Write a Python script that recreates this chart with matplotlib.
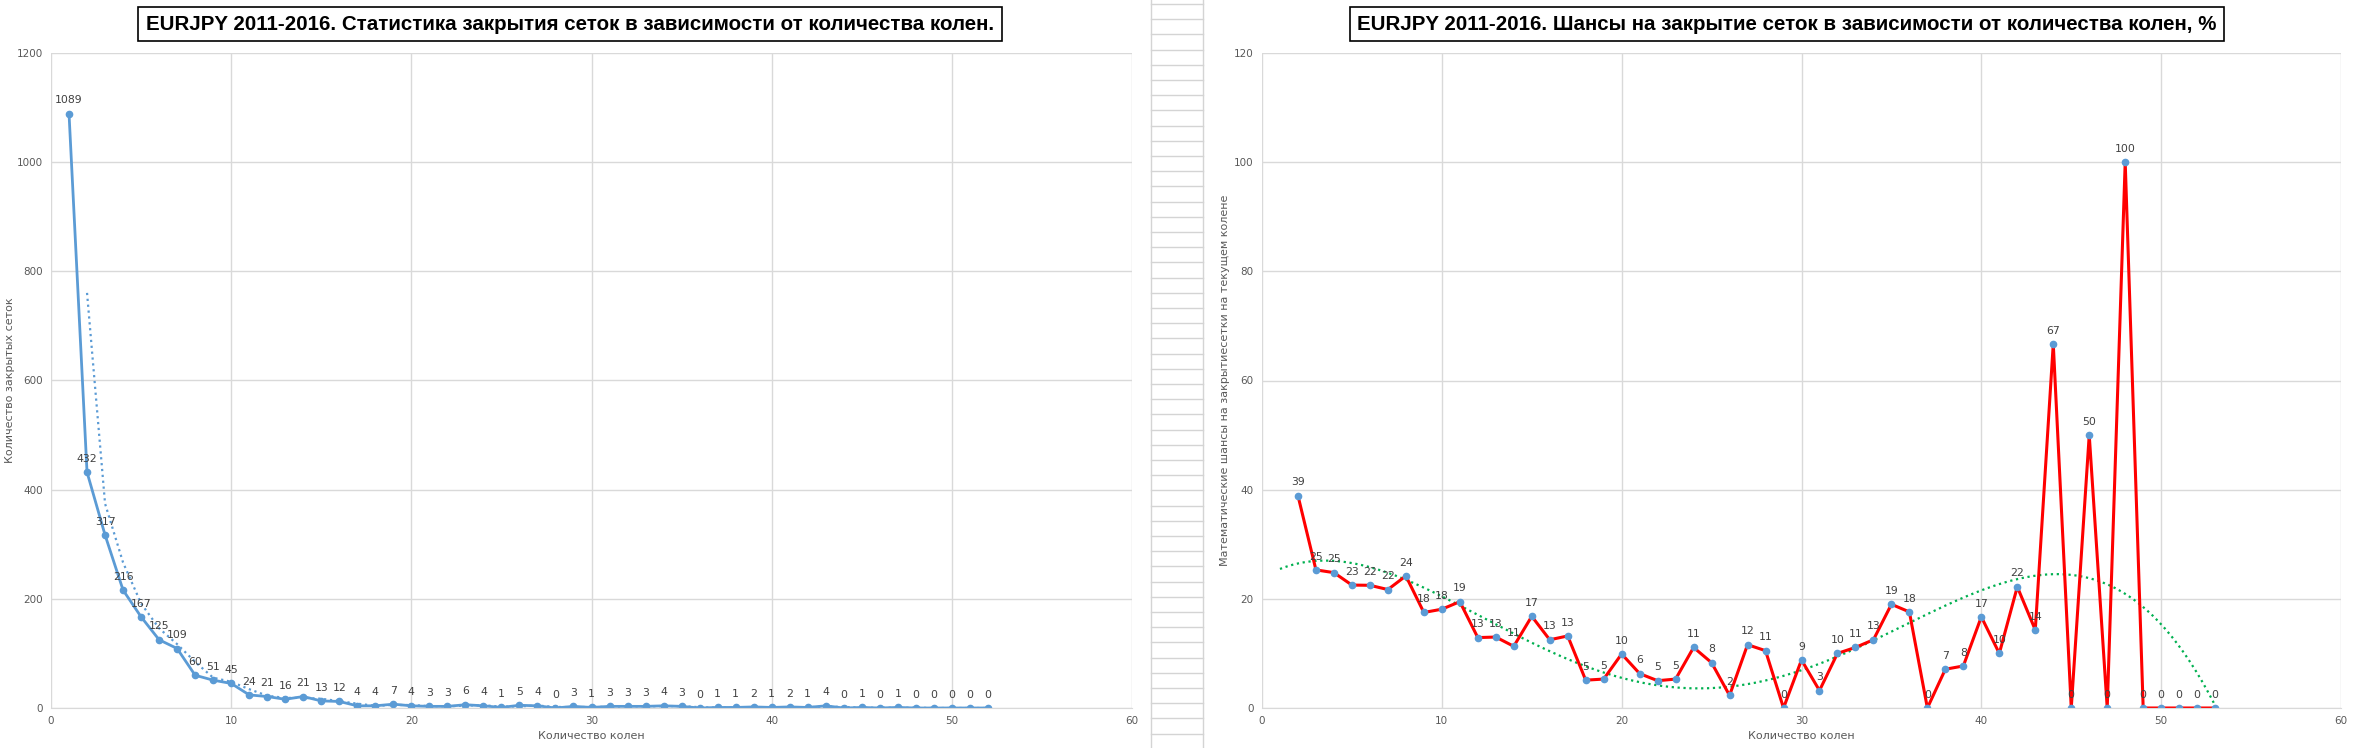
import numpy as np
import pandas as pd
import matplotlib
matplotlib.use("Agg")
import matplotlib.pyplot as plt

# left chart: how many grids closed at each knee
knees = list(range(1, 53))
closed = [1089, 432, 317, 216, 167, 125, 109, 60, 51, 45, 24, 21, 16, 21, 13, 12,
          4, 4, 7, 4, 3, 3, 6, 4, 1, 5, 4, 0, 3, 1, 3, 3, 3, 4, 3, 0, 1, 1, 2, 1,
          2, 1, 4, 0, 1, 0, 1, 0, 0, 0, 0, 0]

# right chart: chance (%) to close at the current knee
knees_pct = list(range(2, 54))
chance = [38.9, 25.3, 24.8, 22.52, 22.48, 21.7, 24.2, 17.5, 18.1, 19.48, 12.9, 13.0,
          11.3, 16.8, 12.5, 13.2, 5.1, 5.3, 9.9, 6.3, 5.0, 5.3, 11.1, 8.3, 2.3, 11.6,
          10.5, 0, 8.8, 3.2, 10.0, 11.1, 12.5, 19.0, 17.6, 0, 7.1, 7.7, 16.7, 10.0,
          22.2, 14.3, 66.7, 0, 50.0, 0, 100.0, 0, 0, 0, 0, 0]

title_left = "EURJPY 2011-2016. Статистика закрытия сеток в зависимости от количества колен."
title_right = "EURJPY 2011-2016. Шансы на закрытие сеток в зависимости от количества колен, %"
xlabel = "Количество колен"
ylabel_left = "Количество закрытых сеток"
ylabel_right = "Математические шансы на закрытиесетки на текущем колене"

BLUE = "#5B9BD5"
GRID = "#D9D9D9"
TICK = "#595959"
LBL = "#404040"
W, H = 2367, 748

fig = plt.figure(figsize=(W / 100, H / 100), dpi=100)
fig.patch.set_facecolor("white")

# spreadsheet column visible between the two charts
x0, x1 = 1151 / W, 1203 / W
fig.add_artist(plt.Line2D([x0, x0], [0, 1], color="#D4D4D4", lw=1))
fig.add_artist(plt.Line2D([x1, x1], [0, 1], color="#D4D4D4", lw=1))
for yp in np.arange(4, H, 15.2):
    fig.add_artist(plt.Line2D([x0, x1], [1 - yp / H] * 2, color="#D4D4D4", lw=1))


def style_axes(ax, ymax, ystep):
    ax.set_xlim(0, 60)
    ax.set_ylim(0, ymax)
    ax.set_xticks(range(0, 61, 10))
    ax.set_yticks(range(0, ymax + 1, ystep))
    ax.grid(True, color=GRID, lw=1)
    ax.set_axisbelow(True)
    for s in ax.spines.values():
        s.set_visible(False)
    ax.spines["bottom"].set_visible(True)
    ax.spines["bottom"].set_color(GRID)
    ax.tick_params(length=0, labelsize=7.5, labelcolor=TICK, pad=6)


def label_points(ax, xs, ys, texts):
    for x, y, t in zip(xs, ys, texts):
        ax.annotate(t, (x, y), xytext=(0, 6), textcoords="offset points",
                    ha="center", va="bottom", fontsize=7.8, color=LBL)


# ---- left chart
axl = fig.add_axes([51 / W, 1 - 708 / H, 1081 / W, 655 / H])
style_axes(axl, 1200, 200)
# 2-period moving average trend line
ma = pd.Series(closed, index=knees).rolling(2).mean()
axl.plot(ma.index, ma.values, ls=":", color=BLUE, lw=1.6)
axl.plot(knees, closed, color=BLUE, lw=2, marker="o", ms=4.5)
label_points(axl, knees, closed, [str(v) for v in closed])
axl.set_xlabel(xlabel, fontsize=8, color=TICK)
axl.set_ylabel(ylabel_left, fontsize=8, color=TICK)
axl.xaxis.set_label_coords(0.5, -0.035)
axl.yaxis.set_label_coords(-0.033, 0.5)

# ---- right chart
axr = fig.add_axes([1262 / W, 1 - 708 / H, 1079 / W, 655 / H])
style_axes(axr, 120, 20)
# 4th degree polynomial trend line, extended one period back
coef = np.polyfit(knees_pct, chance, 4)
xt = np.linspace(1, 53, 300)
axr.plot(xt, np.polyval(coef, xt), ls=":", color="#00B050", lw=1.6)
axr.plot(knees_pct, chance, color="red", lw=2.2)
axr.plot(knees_pct, chance, ls="none", marker="o", ms=4.5, color=BLUE)
label_points(axr, knees_pct, chance, [str(int(np.floor(v + 0.5))) for v in chance])
axr.set_xlabel(xlabel, fontsize=8, color=TICK)
axr.set_ylabel(ylabel_right, fontsize=8, color=TICK)
axr.xaxis.set_label_coords(0.5, -0.035)
axr.yaxis.set_label_coords(-0.030, 0.5)

# titles in framed boxes
tfont = ["Liberation Sans", "DejaVu Sans"]
for cx, txt in [(570, title_left), (1787, title_right)]:
    fig.text(cx / W, 1 - 24 / H, txt, ha="center", va="center", fontsize=14.8,
             fontweight="bold", family=tfont,
             bbox=dict(boxstyle="square,pad=0.38", fc="white", ec="black", lw=1.2))

fig.savefig("out.png", dpi=100)
